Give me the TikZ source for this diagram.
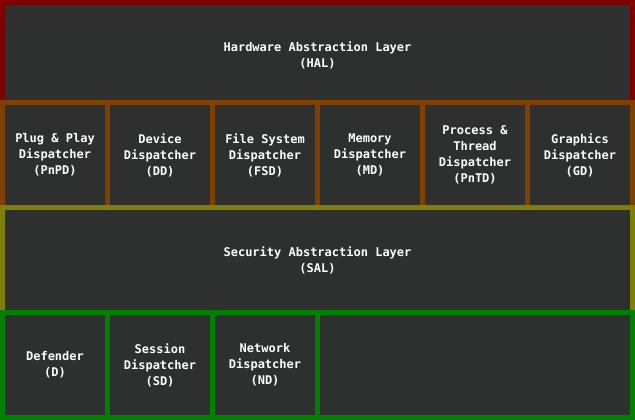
\documentclass[tikz,border=0pt]{standalone}
\usepackage{fontspec}
\setmonofont{DejaVu Sans Mono}
\usepackage{tikz}
\usetikzlibrary{positioning}
\definecolor{panel}{RGB}{46,48,48}
\definecolor{halred}{RGB}{128,0,0}
\definecolor{disporange}{RGB}{128,64,0}
\definecolor{salolive}{RGB}{128,128,0}
\definecolor{appgreen}{RGB}{0,128,0}
\tikzset{
	layer/.style={fill=panel, line width=5pt, text=white, align=center,
		font=\ttfamily\bfseries\fontsize{12}{16}\selectfont,
		minimum height=105pt, inner sep=0pt},
	cell/.style={layer, minimum width=105pt},
}

\begin{document}
\begin{tikzpicture}[x=1pt,y=-1pt]
	\useasboundingbox (0,0) rectangle (635,420);
	%
	% hardware layer
	\node[layer, draw=halred, minimum width=630pt] (hal) at (317.5,55) {Hardware Abstraction Layer\\(HAL)};
	
	% dispatchers
	\node[cell, draw=disporange] (pnpd) at (55,155) {Plug \& Play\\Dispatcher\\(PnPD)};
	\node[cell, draw=disporange] (dd) at (160,155) {Device\\Dispatcher\\(DD)};
	\node[cell, draw=disporange] (fsd) at (265,155) {File System\\Dispatcher\\(FSD)};
	\node[cell, draw=disporange] (md) at (370,155) {Memory\\Dispatcher\\(MD)};
	\node[cell, draw=disporange] (pntd) at (475,155) {Process \&\\Thread\\Dispatcher\\(PnTD)};
	\node[cell, draw=disporange] (gd) at (580,155) {Graphics\\Dispatcher\\(GD)};
	
	% security layer
	\node[layer, draw=salolive, minimum width=630pt] (sal) at (317.5,260) {Security Abstraction Layer\\(SAL)};
	
	% services
	\node[cell, draw=appgreen] (def) at (55,365) {Defender\\(D)};
	\node[cell, draw=appgreen] (sd) at (160,365) {Session\\Dispatcher\\(SD)};
	\node[cell, draw=appgreen] (nd) at (265,365) {Network\\Dispatcher\\(ND)};
	\node[layer, draw=appgreen, minimum width=315pt] (rest) at (475,365) {};
\end{tikzpicture}
\end{document}
